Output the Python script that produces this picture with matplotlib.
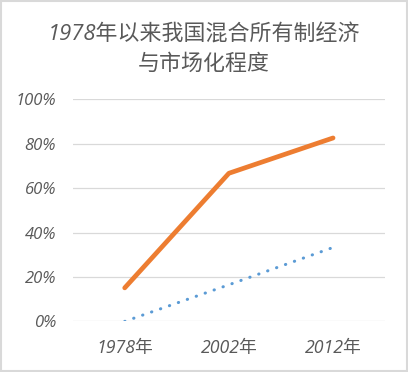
import matplotlib
matplotlib.use("Agg")
import matplotlib.pyplot as plt
from matplotlib.patches import Rectangle
from matplotlib.ticker import PercentFormatter

# data
years = ["1978年", "2002年", "2012年"]
mixed = [0.151, 0.667, 0.826]      # orange solid line
market = [0.0, 0.165, 0.333]       # blue dotted line
yticks = [0, 0.2, 0.4, 0.6, 0.8, 1.0]

fonts = ["Open Sans", "Noto Sans CJK SC", "DejaVu Sans"]
grey = "#595959"

fig = plt.figure(figsize=(4.08, 3.72), dpi=100)
ax = fig.add_axes([0.178, 0.136, 0.766, 0.597])

x = range(len(years))
ax.plot(x, mixed, color="#ED7D31", lw=3.4, solid_capstyle="round")
ax.plot(x, market, color="#5B9BD5", lw=2.2, linestyle=(0, (0.1, 3.0)),
        dash_capstyle="round")

ax.set_xlim(-0.5, len(years) - 0.5)
ax.set_ylim(0, 1.0)
ax.set_yticks(yticks)
ax.yaxis.set_major_formatter(PercentFormatter(1.0, decimals=0))
ax.set_xticks(list(x))
ax.set_xticklabels(years)
ax.grid(axis="y", color="#D9D9D9", lw=0.9)
ax.set_axisbelow(True)
for s in ax.spines.values():
    s.set_visible(False)
ax.tick_params(length=0, colors=grey)
ax.tick_params(axis="y", pad=12)
ax.tick_params(axis="x", pad=13)
for lab in ax.get_yticklabels():
    lab.set_family(fonts)
    lab.set_style("italic")
    lab.set_fontsize(12)
for lab in ax.get_xticklabels():
    lab.set_family(fonts)
    lab.set_style("italic")
    lab.set_fontsize(12.8)

fig.text(0.5, 0.907, "1978年以来我国混合所有制经济", ha="center", va="center",
         family=fonts, style="italic", fontsize=15.8, color=grey)
fig.text(0.5, 0.826, "与市场化程度", ha="center", va="center",
         family=fonts, fontsize=15.8, color=grey)

fig.patches.append(Rectangle((0.002, 0.002), 0.996, 0.996, transform=fig.transFigure,
                             fill=False, edgecolor="#D9D9D9", lw=1.5))

fig.savefig("out.png", dpi=100)
